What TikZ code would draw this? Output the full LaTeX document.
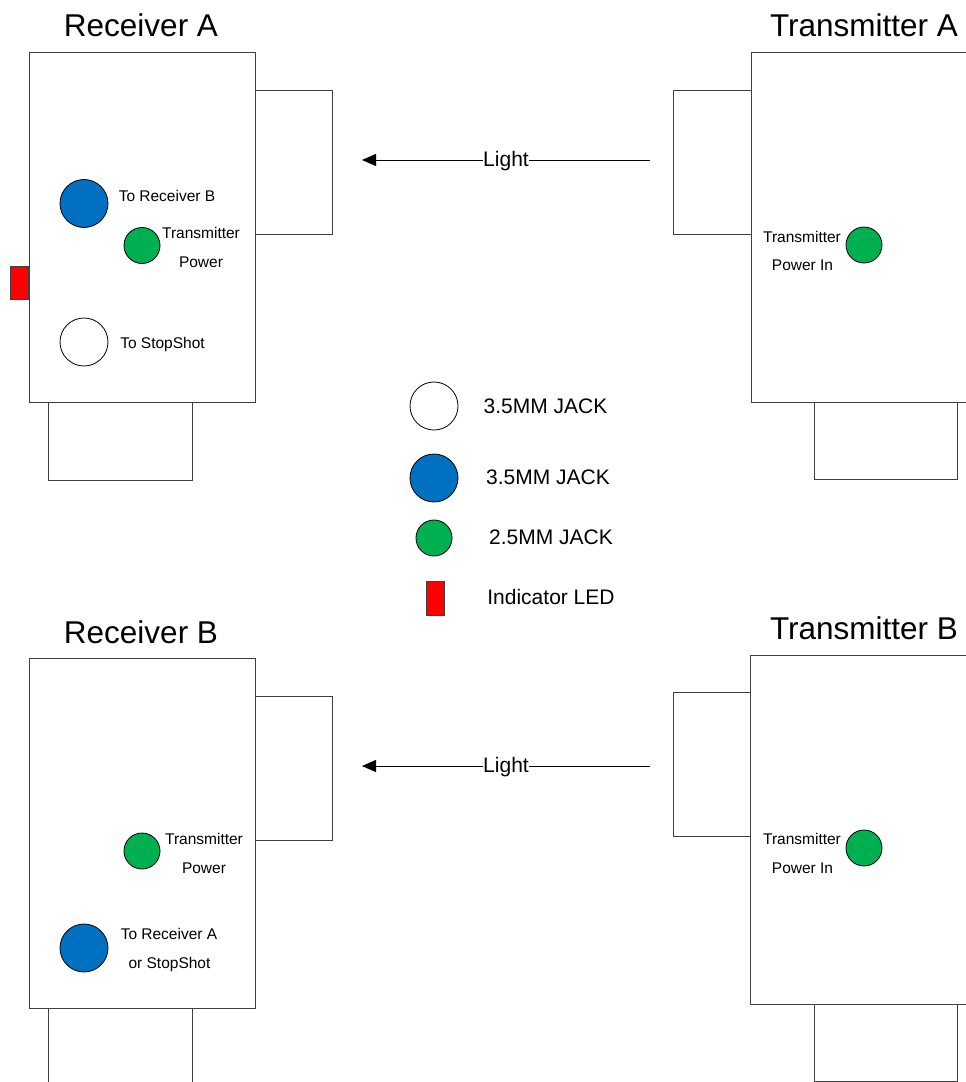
\documentclass[tikz,border=0pt]{standalone}
\usepackage{fontspec}
\setmainfont{Liberation Sans}
\usetikzlibrary{arrows.meta}
\definecolor{jackblue}{HTML}{0070C0}
\definecolor{jackgreen}{HTML}{00B050}
\definecolor{ledred}{HTML}{FF0000}
\definecolor{edge}{HTML}{404040}
\tikzset{
  box/.style={draw=edge, line width=1pt, fill=white},
  openbox/.style={draw=edge, line width=1pt},
  bigjack/.style={circle, draw=black, line width=0.8pt, minimum size=48pt, inner sep=0pt},
  smalljack/.style={circle, draw=black, line width=0.8pt, minimum size=36pt, inner sep=0pt, fill=jackgreen},
  led/.style={draw=edge, line width=0.8pt, fill=ledred},
  title/.style={font=\fontsize{31.5}{36}\selectfont, inner sep=0pt, anchor=base},
  lbl/.style={font=\fontsize{15.5}{18}\selectfont, inner sep=0pt, anchor=base},
  legtext/.style={font=\fontsize{21}{25}\selectfont, inner sep=0pt, anchor=base},
  lightarrow/.style={line width=0.8pt, -{Triangle[length=14pt,width=12pt]}},
  lightlbl/.style={font=\fontsize{21}{25}\selectfont, fill=white, inner sep=0.3pt, yshift=-1.5pt}
}
\begin{document}
\begin{tikzpicture}[x=1pt,y=-1pt]
\useasboundingbox (0,0) rectangle (966,1082);
\clip (0,0) rectangle (966,1082);
\fill[white] (0,0) rectangle (966,1082);

% ---------- Receiver A ----------
\node[title] (tRA) at (141,36) {Receiver A};
\draw[box] (48,402) rectangle (192,480);
\draw[box] (255,90) rectangle (332,234);
\draw[box] (29,52) rectangle (255,402);
\draw[led] (10,266) rectangle (28,299);
\node[bigjack, fill=jackblue] (raBlue) at (84,203.5) {};
\node[smalljack] (raGreen) at (142,245.5) {};
\node[bigjack, fill=white] (raWhite) at (84,342) {};
\node[lbl] (raL1) at (167,201) {To Receiver B};
\node[lbl] (raL2) at (201,238) {Transmitter};
\node[lbl] (raL3) at (201,267) {Power};
\node[lbl] (raL4) at (162.5,348) {To StopShot};

% ---------- Transmitter A ----------
\node[title] (tTA) at (864,36) {Transmitter A};
\draw[box] (814,402) rectangle (957,479);
\draw[box] (673,90) rectangle (751,234);
\draw[openbox] (975,52) -- (751,52) -- (751,402) -- (975,402);
\node[smalljack] (taGreen) at (864,245) {};
\node[lbl] (taL1) at (802,242) {Transmitter};
\node[lbl] (taL2) at (802.5,270) {Power In};

% light A
\coordinate (la1) at (650,160);
\coordinate (la2) at (362,160);
\draw[lightarrow] (la1) -- (la2) node[pos=0.5, lightlbl] (lightA) {Light};

% ---------- Legend ----------
\node[bigjack, fill=white] (lg1) at (434,406) {};
\node[legtext] (lt1) at (545.5,413) {3.5MM JACK};
\node[bigjack, fill=jackblue] (lg2) at (434,478) {};
\node[legtext] (lt2) at (548,484) {3.5MM JACK};
\node[smalljack] (lg3) at (434,538) {};
\node[legtext] (lt3) at (551,544) {2.5MM JACK};
\draw[led] (426,581) rectangle (444,615);
\node[legtext] (lt4) at (551,604) {Indicator LED};

% ---------- Receiver B ----------
\node[title] (tRB) at (141,643) {Receiver B};
\draw[openbox] (48,1090) -- (48,1008) -- (192,1008) -- (192,1090);
\draw[box] (255,696) rectangle (332,840);
\draw[box] (29,658) rectangle (255,1008);
\node[smalljack] (rbGreen) at (142,851) {};
\node[bigjack, fill=jackblue] (rbBlue) at (84,948) {};
\node[lbl] (rbL1) at (204,844) {Transmitter};
\node[lbl] (rbL2) at (204,873) {Power};
\node[lbl] (rbL3) at (169,939) {To Receiver A};
\node[lbl] (rbL4) at (169.5,968) {or StopShot};

% ---------- Transmitter B ----------
\node[title] (tTB) at (864,639) {Transmitter B};
\draw[box] (814,1004) rectangle (957,1081);
\draw[box] (673,692) rectangle (750,836);
\draw[openbox] (975,655) -- (750,655) -- (750,1004) -- (975,1004);
\node[smalljack] (tbGreen) at (864,848) {};
\node[lbl] (tbL1) at (802,844) {Transmitter};
\node[lbl] (tbL2) at (802.5,873) {Power In};

% light B
\coordinate (lb1) at (650,766);
\coordinate (lb2) at (362,766);
\draw[lightarrow] (lb1) -- (lb2) node[pos=0.5, lightlbl] (lightB) {Light};
\end{tikzpicture}
\end{document}
